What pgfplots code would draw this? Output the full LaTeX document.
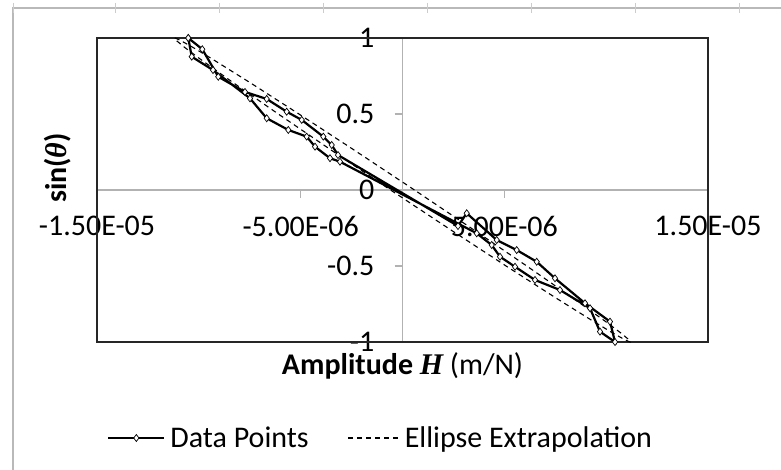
\documentclass[border=0pt]{standalone}
\usepackage{fontspec}
\setmainfont{Carlito}
\newfontfamily\serifit{Liberation Serif}
\usepackage{pgfplots}
\usepackage{pgfplotstable}
\pgfplotsset{compat=1.18}
\pgfplotsset{
  longline legend/.style={legend image code/.code={%
    \draw[mark repeat=2, mark phase=2, ##1] plot coordinates {(0pt,0pt) (28pt,0pt) (56pt,0pt)};}},
  dashline legend/.style={legend image code/.code={%
    \draw[##1] (0pt,0pt) -- (51pt,0pt);}},
}

% measured loop: amplitude H (m/N) against sin(theta)
\pgfplotstableread{
x y
-1.0517e-5 1.000
-1.0350e-5 0.877
-9.304e-6 0.789
-7.488e-6 0.603
-6.668e-6 0.472
-5.607e-6 0.395
-4.704e-6 0.351
-4.296e-6 0.285
-3.560e-6 0.209
-3.069e-6 0.186
3.643e-6 -0.285
4.380e-6 -0.362
4.787e-6 -0.439
5.524e-6 -0.505
6.506e-6 -0.592
7.733e-6 -0.658
9.206e-6 -0.778
9.697e-6 -0.932
1.0434e-5 -1.000
1.0188e-5 -0.866
8.961e-6 -0.745
7.488e-6 -0.581
6.589e-6 -0.472
5.607e-6 -0.395
4.625e-6 -0.329
3.152e-6 -0.153
2.725e-6 -0.237
-3.167e-6 0.230
-3.476e-6 0.296
-3.889e-6 0.351
-4.949e-6 0.461
-5.686e-6 0.515
-6.668e-6 0.599
-7.733e-6 0.645
-9.044e-6 0.745
-9.830e-6 0.926
-1.0517e-5 1.000
}\datatable

% fitted ellipse, sampled
\pgfplotstableread{
x y
5.86e-7 0
-2.329e-6 0.2588
-5.085e-6 0.5
-7.494e-6 0.7071
-9.393e-6 0.8660
-1.0310e-5 0.9397
-1.0913e-5 0.9848
-1.1138e-5 0.9986
-1.1185e-5 1.0
-1.1200e-5 0.9986
-1.1116e-5 0.9848
-1.0711e-5 0.9397
-9.979e-6 0.8660
-8.323e-6 0.7071
-6.100e-6 0.5
-3.461e-6 0.2588
-5.86e-7 0
2.329e-6 -0.2588
5.085e-6 -0.5
7.494e-6 -0.7071
9.393e-6 -0.8660
1.0310e-5 -0.9397
1.0913e-5 -0.9848
1.1138e-5 -0.9986
1.1185e-5 -1.0
1.1200e-5 -0.9986
1.1116e-5 -0.9848
1.0711e-5 -0.9397
9.979e-6 -0.8660
8.323e-6 -0.7071
6.100e-6 -0.5
3.461e-6 -0.2588
5.86e-7 0
}\ellipsetable

\begin{document}
\begin{tikzpicture}
\fill[white] (0pt,0pt) rectangle (781pt,470pt);
\useasboundingbox (0pt,0pt) rectangle (781pt,470pt);
% sheet frame
\draw[gray!55, line width=1.5pt] (13pt,0pt) -- (13pt,462pt) -- (781pt,462pt);
\foreach \t in {13,115,219,323,427,531,635,739}
  \draw[gray!40, line width=0.8pt] (\t pt,467pt) -- (\t pt,457pt);

\begin{axis}[
  at={(97pt,128pt)}, anchor=south west,
  scale only axis, width=611pt, height=304pt,
  xmin=-1.5e-5, xmax=1.5e-5, ymin=-1, ymax=1,
  axis lines=center,
  axis line style={gray!60, line width=1.2pt, -},
  xtick={-1.5e-5,-5e-6,5e-6,1.5e-5},
  xticklabels={-1.50E-05,-5.00E-06,5.00E-06,1.50E-05},
  ytick={-1,-0.5,0,0.5,1},
  yticklabels={-1,-0.5,0,0.5,1},
  hide obscured x ticks=false, hide obscured y ticks=false,
  scaled x ticks=false,
  tick align=outside,
  major tick length=8pt,
  every tick/.style={gray!60, line width=1.2pt},
  tick label style={font=\fontsize{30}{36}\selectfont, black},
  xticklabel style={anchor=north, inner sep=0pt, yshift=-18pt},
  yticklabel style={anchor=east, inner sep=0pt, xshift=-20pt},
  xlabel={\textbf{Amplitude} {\serifit\bfseries\itshape H} (m/N)},
  ylabel={\textbf{sin(}{\serifit\bfseries\itshape θ}\textbf{)}},
  label style={font=\fontsize{30}{36}\selectfont},
  xlabel style={at={(axis description cs:0.5,0)}, anchor=north, inner sep=0pt, yshift=-10pt},
  ylabel style={at={(axis description cs:-0.0638,0.572)}, anchor=center, rotate=90, inner sep=0pt},
  clip=false,
  legend columns=2,
  legend style={at={(axis description cs:0.0164,-0.3158)}, anchor=west,
    draw=none, fill=none, inner sep=0pt,
    font=\fontsize{30}{36}\selectfont,
    nodes={inner sep=0pt, anchor=west},
    /tikz/every odd column/.append style={column sep=5pt},
    /tikz/every even column/.append style={column sep=39pt}},
]
\draw[black!85, line width=1.5pt] (rel axis cs:0,0) rectangle (rel axis cs:1,1);
\addplot[black, line width=2.2pt, mark=diamond*, mark size=3.5pt,
  mark options={fill=white, draw=black, line width=0.7pt, solid},
  longline legend]
  table[x=x, y=y] {\datatable};
\addlegendentry{Data Points}
\addplot[black, line width=1.1pt, dash pattern=on 5pt off 4pt, dashline legend]
  table[x=x, y=y] {\ellipsetable};
\addlegendentry{Ellipse Extrapolation}
\end{axis}
\end{tikzpicture}
\end{document}
